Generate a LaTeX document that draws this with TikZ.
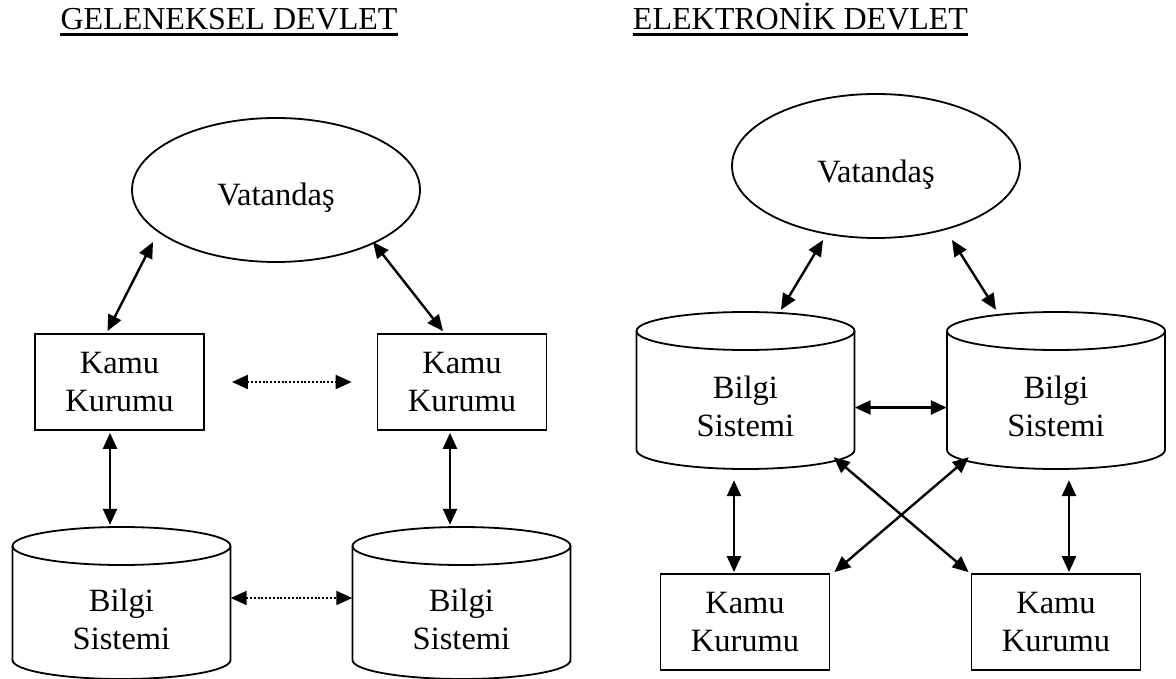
\documentclass[tikz,border=0pt]{standalone}
\usepackage{fontspec}
\setmainfont{Liberation Serif}
\usetikzlibrary{arrows.meta,shapes.geometric,calc,fit}

\tikzset{
  lbl/.style={font=\fontsize{32.5}{38}\selectfont, align=center, inner sep=0pt},
  kbox/.style={draw, line width=1.8pt, minimum width=169pt, minimum height=96pt, lbl},
  oval/.style={draw, ellipse, line width=1.8pt, minimum width=288pt, minimum height=144pt, inner sep=0pt},
  body/.style={line width=1.8pt},
  tip/.tip={Triangle[length=16pt,width=14pt]},
  link/.style={line width=2.4pt, tip-tip},
  dotlink/.style={link, line width=2pt, dash pattern=on 2pt off 1.8pt},
  title/.style={lbl, anchor=base, font=\fontsize{32}{38}\selectfont},
  uline/.style={line width=2.2pt}
}

% database cylinder: name, centre x, top ellipse centre y, bottom ellipse centre y
\newcommand{\dbcyl}[4]{%
  \node[inner sep=0pt, fit={(#2-109,#3-19) (#2+109,#4+19)}] (#1) {};
  \draw[body] (#2-109,#3) -- (#2-109,#4)
    arc[start angle=180, end angle=0, x radius=109, y radius=19] -- (#2+109,#3);
  \draw[body] (#2,#3) ellipse[x radius=109, y radius=19];
  \node[lbl] (#1t) at (#2,{(#3+#4)/2+16}) {Bilgi\\Sistemi};
}

\begin{document}
\begin{tikzpicture}[x=1pt, y=-1pt]
\useasboundingbox (0,0) rectangle (1176,679);

% ---------- traditional government ----------
\node[title] (tL) at (229,30) {GELENEKSEL DEVLET};
\draw[uline] ($(tL.base west)+(0,4.5)$) -- ($(tL.base east)+(0,4.5)$);

\node[oval] (vatL) at (276,190) {};
\node[lbl] (vatLt) at (276,198) {Vatandaş};

\node[kbox] (kkL1) at (119.5,382) {Kamu\\Kurumu};
\node[kbox] (kkL2) at (462,382) {Kamu\\Kurumu};

\dbcyl{bsL1}{121.5}{546}{660}
\dbcyl{bsL2}{461.5}{546}{660}

\draw[link] ($(vatL.center)+(-123,52)$) -- ($(kkL1.north)+(-12,-2)$);
\draw[link] ($(vatL.center)+(97,52)$) -- ($(kkL2.north)+(-19,-2)$);
\draw[dotlink] ($(kkL1.east)+(27,0)$) -- ($(kkL2.west)+(-25,0)$);
\draw[link] ($(kkL1.south)+(-9.5,2)$) -- ($(bsL1.north)+(-11.5,-2)$);
\draw[link] ($(kkL2.south)+(-12,2)$) -- ($(bsL2.north)+(-11.5,-2)$);
\draw[dotlink] ($(bsL1.east)+(0,-5)$) -- ($(bsL2.west)+(0,-5)$);

% ---------- electronic government ----------
\node[title] (tR) at (800.5,30) {ELEKTRONİK DEVLET};
\draw[uline] ($(tR.base west)+(0,4.5)$) -- ($(tR.base east)+(0,4.5)$);

\node[oval] (vatR) at (876,166) {};
\node[lbl] (vatRt) at (876,175) {Vatandaş};

\dbcyl{bsR1}{745.5}{331}{450}
\dbcyl{bsR2}{1056}{331}{450}

\node[kbox] (kkR1) at (745,622) {Kamu\\Kurumu};
\node[kbox] (kkR2) at (1056,622) {Kamu\\Kurumu};

\draw[link] ($(vatR.center)+(-53,74)$) -- ($(bsR1.north)+(35.5,-2)$);
\draw[link] ($(vatR.center)+(76,74)$) -- ($(bsR2.north)+(-60,-2)$);
\draw[link] ($(bsR1.east)+(0,17)$) -- ($(bsR2.west)+(0,17)$);
\draw[link] ($(bsR1.south)+(-11.5,11)$) -- ($(kkR1.north)+(-11,-1)$);
\draw[link] ($(bsR2.south)+(13,11)$) -- ($(kkR2.north)+(13,-1)$);
\draw[link] ($(bsR1.south east)+(-21,-12)$) -- ($(kkR2.north west)+(-2,-1)$);
\draw[link] ($(bsR2.south west)+(22,-12)$) -- ($(kkR1.north east)+(4,-1)$);
\end{tikzpicture}
\end{document}
